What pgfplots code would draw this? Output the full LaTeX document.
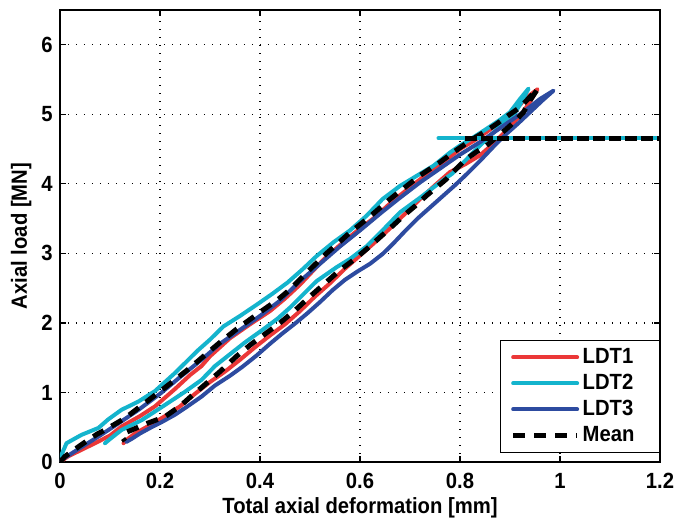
\documentclass[border=0pt]{standalone}
\usepackage{pgfplots}
\pgfplotsset{compat=1.18}
\usepackage{fontspec}
\setmainfont{Liberation Sans}[FakeStretch=0.92]
\definecolor{cR}{RGB}{235,55,55}
\definecolor{cC}{RGB}{20,180,205}
\definecolor{cB}{RGB}{45,75,160}
\begin{document}
\begin{tikzpicture}
\begin{axis}[
  scale only axis, width=300pt, height=226pt,
  xmin=0, xmax=1.2, ymin=0, ymax=6.5,
  xtick={0,0.2,0.4,0.6,0.8,1,1.2},
  xticklabels={0,0.2,0.4,0.6,0.8,1,1.2},
  ytick={0,1,2,3,4,5,6},
  yticklabels={0,1,2,3,4,5,6},
  font=\fontsize{11}{12}\selectfont\bfseries,
  tick label style={font=\fontsize{11}{12}\selectfont\bfseries},
  xticklabel style={anchor=base, yshift=-13.5pt},
  yticklabel style={inner sep=0pt, xshift=-3.5pt},
  xlabel={Total axial deformation [mm]},
  ylabel={Axial load [MN]},
  xlabel style={at={(axis description cs:0.5,0)}, anchor=base, yshift=-26pt, font=\fontsize{11}{12}\selectfont\bfseries},
  ylabel style={at={(axis description cs:-0.047,0.5)}, anchor=south, inner sep=0pt, font=\fontsize{11}{12}\selectfont\bfseries},
  axis line style={line width=0.8pt},
  tick style={black, line width=0.6pt},
  tick align=inside, major tick length=3pt,
  xtick pos=both, ytick pos=both,
  grid=major,
  major grid style={black, line width=0.6pt, dash pattern=on 0.7pt off 3.3pt},
  legend style={at={(1,0.02)}, anchor=south east, draw=black, line width=0.6pt,
    font=\fontsize{11}{12}\selectfont\bfseries, row sep=0pt, inner xsep=5pt, inner ysep=2pt,
    nodes={inner sep=1.5pt, text height=8pt, text depth=2pt}},
  legend cell align=left,
  legend image code/.code={\draw[#1] (0pt,0pt) -- (32pt,0pt);},
  every axis plot/.append style={line join=round, line cap=round},
]
\addplot[cR, line width=2pt] coordinates {
(0,0) (0.016,0.08) (0.07,0.27) (0.1,0.38) (0.123,0.51) (0.16,0.66) (0.19,0.8) (0.23,1.05) (0.26,1.25) (0.283,1.38) (0.3,1.52) (0.34,1.78) (0.38,1.98) (0.42,2.17) (0.45,2.35) (0.48,2.55) (0.527,2.91) (0.56,3.12) (0.59,3.3) (0.63,3.52) (0.665,3.75) (0.7,3.95) (0.73,4.12) (0.77,4.33) (0.8,4.5) (0.83,4.63) (0.86,4.78) (0.89,4.95) (0.915,5.1) (0.935,5.25) (0.955,5.36)
(0.94,5.18) (0.925,5.02) (0.9,4.82) (0.87,4.6) (0.84,4.41) (0.81,4.28) (0.78,4.17) (0.75,3.98) (0.72,3.78) (0.69,3.57) (0.66,3.36) (0.63,3.16) (0.6,2.97) (0.57,2.78) (0.54,2.57) (0.51,2.38) (0.48,2.17) (0.45,1.98) (0.42,1.82) (0.39,1.65) (0.36,1.47) (0.33,1.3) (0.3,1.15) (0.27,0.98) (0.24,0.8) (0.21,0.66) (0.18,0.53) (0.15,0.41) (0.13,0.3) (0.127,0.27)
};
\addlegendentry{LDT1\hspace*{6pt}}
\addplot[cC, line width=2pt] coordinates {
(0,0) (0.004,0.12) (0.013,0.27) (0.043,0.39) (0.077,0.49) (0.096,0.61) (0.123,0.75) (0.157,0.87) (0.19,1.02) (0.23,1.28) (0.275,1.6) (0.3,1.76) (0.327,1.95) (0.36,2.1) (0.393,2.26) (0.425,2.42) (0.455,2.58) (0.485,2.77) (0.513,2.96) (0.547,3.16) (0.58,3.33) (0.613,3.54) (0.645,3.78) (0.68,3.97) (0.71,4.1) (0.747,4.26) (0.78,4.45) (0.8,4.55) (0.827,4.67) (0.853,4.79) (0.88,4.92) (0.9,5.03) (0.92,5.22) (0.937,5.37)
(0.925,5.2) (0.91,5.02) (0.89,4.9) (0.87,4.76) (0.84,4.55) (0.81,4.33) (0.785,4.15) (0.76,4.02) (0.72,3.8) (0.68,3.59) (0.645,3.33) (0.613,3.1) (0.58,2.92) (0.553,2.8) (0.513,2.6) (0.485,2.4) (0.46,2.22) (0.435,2.06) (0.407,1.91) (0.37,1.72) (0.34,1.55) (0.31,1.38) (0.283,1.18) (0.25,1.01) (0.21,0.82) (0.163,0.6) (0.123,0.46) (0.1,0.33) (0.09,0.27)
};
\addlegendentry{LDT2\hspace*{6pt}}
\addplot[cB, line width=2pt] coordinates {
(0,0) (0.003,0.03) (0.04,0.2) (0.08,0.38) (0.12,0.57) (0.157,0.75) (0.2,0.98) (0.24,1.22) (0.283,1.47) (0.32,1.7) (0.36,1.9) (0.4,2.1) (0.44,2.32) (0.48,2.6) (0.52,2.85) (0.56,3.1) (0.6,3.33) (0.64,3.57) (0.68,3.8) (0.72,4.02) (0.76,4.22) (0.8,4.42) (0.84,4.6) (0.87,4.75) (0.9,4.9) (0.93,5.05) (0.96,5.22) (0.987,5.34)
(0.965,5.2) (0.94,5.03) (0.915,4.86) (0.89,4.7) (0.865,4.52) (0.84,4.33) (0.815,4.15) (0.79,3.98) (0.765,3.82) (0.74,3.66) (0.715,3.5) (0.69,3.32) (0.665,3.13) (0.645,2.99) (0.62,2.85) (0.595,2.74) (0.57,2.62) (0.545,2.47) (0.52,2.3) (0.495,2.14) (0.47,1.99) (0.445,1.85) (0.42,1.7) (0.393,1.53) (0.365,1.37) (0.34,1.24) (0.31,1.1) (0.283,0.94) (0.255,0.8) (0.23,0.68) (0.205,0.58) (0.183,0.5) (0.16,0.41) (0.145,0.34) (0.133,0.29)
};
\addlegendentry{LDT3\hspace*{6pt}}
\addplot[black, line width=2.5pt, line cap=butt, dash pattern=on 6pt off 4.5pt] coordinates {
(0,0) (0.01,0.08) (0.043,0.25) (0.074,0.4) (0.09,0.46) (0.13,0.63) (0.17,0.85) (0.21,1.07) (0.256,1.33) (0.287,1.52) (0.32,1.72) (0.353,1.91) (0.38,2.05) (0.407,2.19) (0.435,2.33) (0.46,2.48) (0.5,2.77) (0.533,3.0) (0.56,3.17) (0.58,3.3) (0.62,3.53) (0.66,3.78) (0.69,3.95) (0.72,4.12) (0.76,4.31) (0.79,4.47) (0.82,4.62) (0.85,4.75) (0.873,4.86) (0.9,5.0) (0.92,5.1) (0.94,5.25) (0.955,5.36)
(0.94,5.2) (0.927,5.03) (0.91,4.9) (0.893,4.79) (0.873,4.67) (0.853,4.55) (0.833,4.46) (0.813,4.36) (0.793,4.22) (0.773,4.07) (0.753,3.95) (0.733,3.83) (0.71,3.68) (0.687,3.54) (0.66,3.36) (0.635,3.2) (0.613,3.06) (0.59,2.92) (0.56,2.76) (0.53,2.57) (0.5,2.38) (0.47,2.18) (0.44,2.0) (0.41,1.84) (0.38,1.68) (0.353,1.52) (0.32,1.3) (0.283,1.07) (0.26,0.93) (0.243,0.82) (0.21,0.65) (0.176,0.56) (0.15,0.48) (0.13,0.42) (0.125,0.35) (0.13,0.3)
};
\addlegendentry{Mean\hspace*{6pt}}
\addplot[cC, line width=2pt, forget plot] coordinates {(0.757,4.657) (1.2,4.657)};
\addplot[black, line width=2.5pt, line cap=butt, dash pattern=on 6pt off 2pt, forget plot] coordinates {(0.81,4.657) (1.2,4.657)};
\end{axis}
\pgfresetboundingbox
\path ([shift={(-30pt,-29.5pt)}]current axis.south west) rectangle ([shift={(8.5pt,5pt)}]current axis.north east);
\end{tikzpicture}
\end{document}
